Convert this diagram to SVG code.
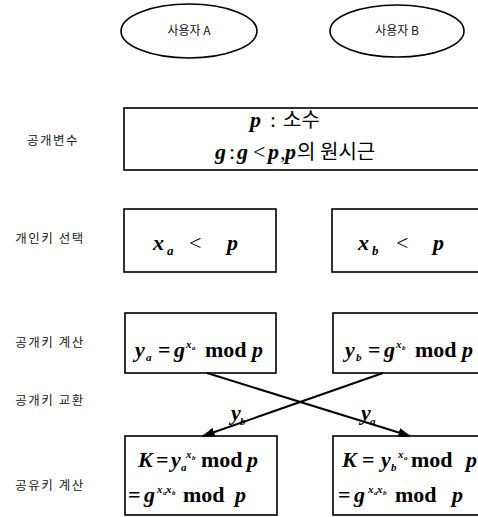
<svg xmlns="http://www.w3.org/2000/svg" width="478" height="517" viewBox="0 0 478 517">
<defs>
<marker id="ah" viewBox="0 0 10 10" refX="9" refY="5" markerWidth="6.5" markerHeight="6.5" orient="auto" markerUnits="strokeWidth"><path d="M0,1.5 L10,5 L0,8.5 z" fill="#000"/></marker>
</defs>
<style>
.box{fill:#fff;stroke:#000;stroke-width:1.6}
.ell{fill:#fff;stroke:#000;stroke-width:1.6}
.lbl{font-family:"Noto Sans CJK KR","Noto Sans",sans-serif;font-size:12.5px;letter-spacing:1.5px;fill:#222;text-anchor:middle}
.usr{font-family:"Noto Sans CJK KR","Noto Sans",sans-serif;font-size:12px;fill:#111;text-anchor:middle}
.m{font-family:"Liberation Serif",serif;font-weight:bold;font-size:22px;fill:#000}
.i{font-style:italic}
.n{font-weight:normal}
.s{font-size:11px}
.t{font-size:7px}
.ko{font-family:"Noto Sans CJK KR",sans-serif;font-weight:normal;font-size:20px}
.con{stroke:#000;stroke-width:2;fill:none}
</style>
<rect width="478" height="517" fill="#fff"/>
<g id="userA"><ellipse class="ell" cx="189" cy="31" rx="68" ry="27"/><text class="usr" x="189" y="35">사용자 A</text></g>
<g id="userB"><ellipse class="ell" cx="397" cy="31" rx="67" ry="26"/><text class="usr" x="397" y="35">사용자 B</text></g>

<g id="labels">
<text class="lbl" x="53" y="145">공개변수</text>
<text class="lbl" x="50" y="243">개인키 선택</text>
<text class="lbl" x="50" y="347">공개키 계산</text>
<text class="lbl" x="50" y="405">공개키 교환</text>
<text class="lbl" x="50" y="490">공유키 계산</text>
</g>

<g id="params">
<rect class="box" x="124" y="108" width="370" height="62"/>
<text class="m"><tspan class="i" x="250" y="127">p</tspan><tspan class="n" x="270">:</tspan><tspan class="ko" x="283">소수</tspan></text>
<text class="m"><tspan class="i" x="215" y="159">g</tspan><tspan class="n" x="229">:</tspan><tspan class="i" x="237">g</tspan><tspan class="n" x="253">&lt;</tspan><tspan class="i" x="268">p</tspan><tspan class="n" x="280">,</tspan><tspan class="i" x="285">p</tspan><tspan class="ko" x="297">의</tspan><tspan class="ko" x="320">원시근</tspan></text>
</g>

<g id="privA">
<rect class="box" x="124" y="209" width="152" height="63"/>
<text class="m" font-size="26"><tspan class="i" x="153" y="250">x</tspan><tspan class="i" font-size="13" x="167" y="255">a</tspan><tspan class="n" x="189" y="250">&lt;</tspan><tspan class="i" x="227">p</tspan></text>
</g>
<g id="privB">
<rect class="box" x="332" y="209" width="160" height="63"/>
<text class="m" font-size="26"><tspan class="i" x="358" y="250">x</tspan><tspan class="i" font-size="13" x="372" y="255">b</tspan><tspan class="n" x="396" y="250">&lt;</tspan><tspan class="i" x="433">p</tspan></text>
</g>

<g id="pubA">
<rect class="box" x="125" y="313" width="151" height="60"/>
<text class="m"><tspan class="i" x="135" y="357">y</tspan><tspan class="i s" x="146" y="361">a</tspan><tspan x="158" y="357">=</tspan><tspan class="i" x="174">g</tspan><tspan class="i s" x="186" y="348">x</tspan><tspan class="i t" x="192" y="350">a</tspan><tspan x="205" y="357">mod</tspan><tspan class="i" x="252">p</tspan></text>
</g>
<g id="pubB">
<rect class="box" x="333" y="313" width="160" height="60"/>
<text class="m"><tspan class="i" x="345" y="357">y</tspan><tspan class="i s" x="356" y="361">b</tspan><tspan x="368" y="357">=</tspan><tspan class="i" x="384">g</tspan><tspan class="i s" x="396" y="348">x</tspan><tspan class="i t" x="402" y="350">b</tspan><tspan x="415" y="357">mod</tspan><tspan class="i" x="462">p</tspan></text>
</g>

<g id="sharedA">
<rect class="box" x="125" y="436" width="152" height="79"/>
<text class="m" font-size="21"><tspan class="i" x="138" y="467">K</tspan><tspan x="156">=</tspan><tspan class="i" x="171">y</tspan><tspan class="i s" x="181" y="471">a</tspan><tspan class="i s" x="186" y="458">x</tspan><tspan class="i t" x="192" y="460">b</tspan><tspan x="201" y="467">mod</tspan><tspan class="i" x="247">p</tspan></text>
<text class="m" font-size="21"><tspan x="128" y="502">=</tspan><tspan class="i" x="144">g</tspan><tspan class="i s" x="157" y="493">x</tspan><tspan class="i t" x="163" y="495">a</tspan><tspan class="i s" x="166" y="493">x</tspan><tspan class="i t" x="172" y="495">b</tspan><tspan x="183" y="502">mod</tspan><tspan class="i" x="235">p</tspan></text>
</g>
<g id="sharedB">
<rect class="box" x="333" y="436" width="160" height="79"/>
<text class="m"><tspan class="i" x="342" y="467">K</tspan><tspan x="362">=</tspan><tspan class="i" x="381">y</tspan><tspan class="i s" x="391" y="471">b</tspan><tspan class="i s" x="398" y="458">x</tspan><tspan class="i t" x="404" y="460">a</tspan><tspan x="411" y="467">mod</tspan><tspan class="i" x="466">p</tspan></text>
<text class="m"><tspan x="338" y="502">=</tspan><tspan class="i" x="354">g</tspan><tspan class="i s" x="368" y="493">x</tspan><tspan class="i t" x="374" y="495">a</tspan><tspan class="i s" x="377" y="493">x</tspan><tspan class="i t" x="383" y="495">b</tspan><tspan x="395" y="502">mod</tspan><tspan class="i" x="452">p</tspan></text>
</g>

<g id="connectors">
<line class="con" x1="207" y1="373" x2="410" y2="436" marker-end="url(#ah)"/>
<line class="con" x1="383" y1="373" x2="203" y2="436" marker-end="url(#ah)"/>
<text class="m" font-size="19"><tspan class="i" x="231" y="420">y</tspan><tspan class="i s" x="240" y="425">b</tspan></text>
<text class="m" font-size="19"><tspan class="i" x="361" y="420">y</tspan><tspan class="i s" x="370" y="425">a</tspan></text>
</g>
</svg>
